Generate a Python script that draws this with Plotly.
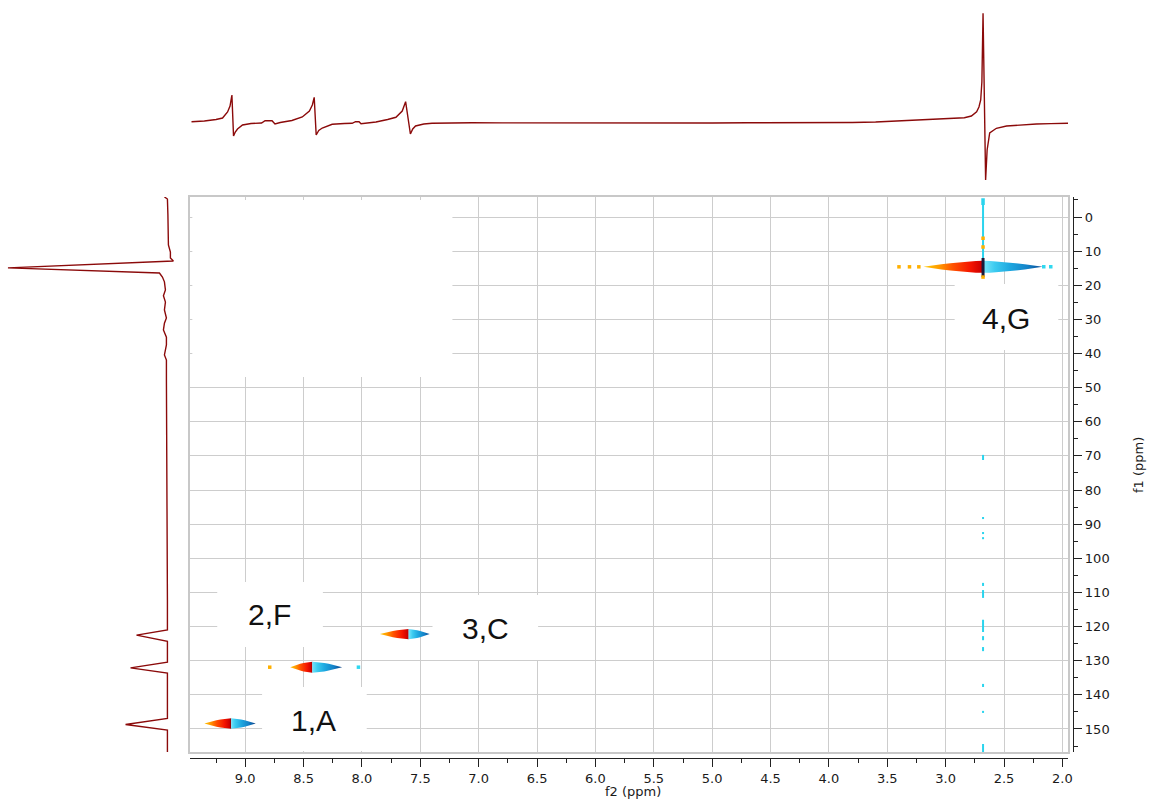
import plotly.graph_objects as go

W, H = 1149, 799

# ---------------- data ----------------
# 1D projection along f2 (top trace): ppm, intensity (arb.)
top_f2 = [9.46, 9.35, 9.25, 9.194, 9.151, 9.13, 9.114, 9.100, 9.085, 9.066, 9.023, 8.95, 8.86,
          8.83, 8.77, 8.745, 8.70, 8.60, 8.511, 8.45, 8.425, 8.409, 8.392, 8.37, 8.34, 8.255,
          8.15, 8.084, 8.055, 8.025, 8.008, 7.95, 7.88, 7.78, 7.709, 7.655, 7.626, 7.585, 7.565,
          7.541, 7.47, 7.40, 7.25, 7.06, 6.8, 6.5, 6.2, 5.9, 5.6, 5.3, 5.0, 4.7, 4.4, 4.1, 3.8,
          3.6, 3.42, 3.2, 2.99, 2.84, 2.78, 2.735, 2.715, 2.70, 2.69, 2.680, 2.658, 2.645, 2.623,
          2.566, 2.479, 2.35, 2.223, 2.10, 1.952]
top_int = [0.3, 1.0, 2.5, 4, 10, 16, 27, -14, -10, -7, -3, -1.5, -1,
           1.3, 1.3, -2, -0.5, 1.5, 5, 11, 17, 24.7, -13, -8.5, -6, -2.3,
           -1.5, -1.3, 0.3, 0.3, -1.7, -0.8, 0, 2.5, 4.7, 11, 20.3, -12, -7,
           -4, -2, -1.3, -1, -0.7, -0.9, -1.0, -0.8, -1.0, -0.9, -0.8, -1.0, -0.8, -0.9, -0.7, -0.5,
           0, 1, 1.8, 3, 4.3, 6, 10.3, 15, 22, 40, 108.7, -58, -28, -11,
           -6.3, -4, -2.8, -2, -1.6, -1.3]

# 1D projection along f1 (left trace): ppm, intensity (arb.)
left_f1 = [-5.86, -5.27, -0.6, 3.8, 8.2, 10.3, 12.0, 12.9, 14.9, 16.4, 17.6, 19.0, 21.4, 23.1,
           24.9, 27.2, 29.6, 31.1, 33.1, 35.2, 37.5, 40.4, 41.9, 47.8, 68.3, 88.8, 112.2, 121.0,
           122.5, 124.3, 130.4, 132.1, 133.6, 146.9, 148.7, 150.3, 157.0]
left_int = [3, 0, -0.5, -1, -1, -3, -3, -6, 160, 8, 5, 3, 2, 4,
            2, 3, 1, 3, 4, 1, 1, 3, 1, 1, 0.5, 0.5, 0, 0,
            31, 0, 0, 37, 0, 0, 42, 0, 0]

# cross peaks
peak_labels = ["1,A", "2,F", "3,C", "4,G"]
peak_f2 = [9.12, 8.425, 7.60, 2.68]
peak_f1 = [148.4, 131.9, 122.2, 14.6]
peak_pos_end_f2 = [9.35, 8.614, 7.846, 3.19]
peak_neg_end_f2 = [8.91, 8.17, 7.42, 2.17]
peak_f1_half = [1.55, 1.6, 1.5, 1.75]

# isolated contour dots
pos_dot_f2 = [8.79, 3.40, 3.31, 3.23, 2.68, 2.68, 2.68]
pos_dot_f1 = [131.9, 14.6, 14.6, 14.6, 6.2, 8.8, 17.6]
neg_dot_f2 = [8.03, 2.16, 2.10]
neg_dot_f1 = [131.9, 14.6, 14.6]

# t1-noise streak at the methyl f2 position
streak_f2 = 2.68
streak_f1_start = [-5.5, -3.5, 69.7, 87.9, 92.3, 93.8, 107.2, 109.3, 118.0, 122.8, 126.0, 136.8, 144.7, 154.4]
streak_f1_end = [-3.5, 12.5, 71.2, 88.5, 92.9, 94.4, 108.1, 111.6, 121.6, 124.0, 127.2, 137.7, 145.3, 156.8]
spike_f1 = [12.0, 17.6]

x_ticks = [9.0, 8.5, 8.0, 7.5, 7.0, 6.5, 6.0, 5.5, 5.0, 4.5, 4.0, 3.5, 3.0, 2.5, 2.0]
y_ticks = [0, 10, 20, 30, 40, 50, 60, 70, 80, 90, 100, 110, 120, 130, 140, 150]

# ---------------- layout helpers ----------------
def px(x):
    return x / W

def py(y):
    return 1 - y / H

X_RANGE = [9.47, 1.95]
Y_RANGE = [156.75, -5.86]
main_xdom = [px(191), px(1072)]
main_ydom = [py(752), py(197)]

lens_t = [0, 0.15, 0.3, 0.45, 0.6, 0.75, 0.88, 1.0]
lens_w = [0, 0.25, 0.45, 0.62, 0.77, 0.89, 0.97, 1.0]

pos_scale = [[0, '#ffc400'], [0.22, '#ff9a00'], [0.45, '#ff5200'], [0.75, '#f41400'],
             [0.93, '#cc0000'], [1, '#6a0010']]
neg_scale = [[0, '#10244a'], [0.08, '#0a4f98'], [0.3, '#1482c8'], [0.6, '#1ea8e0'],
             [0.85, '#3ccbf0'], [1, '#6ee0f8']]

fig = go.Figure()

def lobe(xc, xe, yc, hh, scale):
    xs, yu, yl = [], [], []
    for t, w in zip(lens_t, lens_w):
        xs.append(xe + t * (xc - xe))
        yu.append(yc - w * hh)
        yl.append(yc + w * hh)
    X = xs + xs[::-1] + [xs[0]]
    Y = yu + yl[::-1] + [yu[0]]
    return go.Scatter(x=X, y=Y, mode='lines', fill='toself', line=dict(width=0),
                      fillgradient=dict(type='horizontal', colorscale=scale, start=xe, stop=xc),
                      hoverinfo='skip', showlegend=False, xaxis='x', yaxis='y')

# streak
sx, sy = [], []
for a, b in zip(streak_f1_start[1:], streak_f1_end[1:]):
    sx += [streak_f2, streak_f2, None]
    sy += [a, b, None]
fig.add_trace(go.Scatter(x=sx, y=sy, mode='lines', line=dict(color='#2ad4ee', width=2),
                         hoverinfo='skip', showlegend=False))
fig.add_trace(go.Scatter(x=[streak_f2, streak_f2], y=[streak_f1_start[0], streak_f1_end[0]],
                         mode='lines', line=dict(color='#2ad4ee', width=3.5),
                         hoverinfo='skip', showlegend=False))

for i in range(len(peak_labels)):
    fig.add_trace(lobe(peak_f2[i], peak_pos_end_f2[i], peak_f1[i], peak_f1_half[i], pos_scale))
    fig.add_trace(lobe(peak_f2[i], peak_neg_end_f2[i], peak_f1[i], peak_f1_half[i], neg_scale))

fig.add_trace(go.Scatter(x=[peak_f2[3], peak_f2[3]], y=spike_f1, mode='lines',
                         line=dict(color='#1a1a3a', width=3), hoverinfo='skip', showlegend=False))

fig.add_trace(go.Scatter(x=pos_dot_f2, y=pos_dot_f1, mode='markers',
                         marker=dict(color='#ffb000', size=3.5, symbol='square'),
                         hoverinfo='skip', showlegend=False))
fig.add_trace(go.Scatter(x=neg_dot_f2, y=neg_dot_f1, mode='markers',
                         marker=dict(color='#30d8f0', size=3.5, symbol='square'),
                         hoverinfo='skip', showlegend=False))

# projections
fig.add_trace(go.Scatter(x=top_f2, y=top_int, mode='lines', xaxis='x2', yaxis='y2',
                         line=dict(color='#8b0a0a', width=1.4), hoverinfo='skip', showlegend=False))
fig.add_trace(go.Scatter(x=left_int, y=left_f1, mode='lines', xaxis='x3', yaxis='y3',
                         line=dict(color='#8b0a0a', width=1.4), hoverinfo='skip', showlegend=False))

# dummy for tick axes
fig.add_trace(go.Scatter(x=[5.0], y=[50], xaxis='x5', yaxis='y5', mode='markers',
                         marker=dict(opacity=0), hoverinfo='skip', showlegend=False))

grid = '#cdcdcd'
tickfont = dict(family='DejaVu Sans', size=13, color='#1a1a1a')

fig.update_layout(
    width=W, height=H, margin=dict(l=0, r=0, t=0, b=0),
    paper_bgcolor='white', plot_bgcolor='white',
    xaxis=dict(domain=main_xdom, range=X_RANGE, anchor='y', tickvals=x_ticks, showticklabels=False,
               ticks='', showgrid=True, gridcolor=grid, gridwidth=1, zeroline=False,
               showline=True, linecolor='#c8c8c8', linewidth=1.5, mirror=True),
    yaxis=dict(domain=main_ydom, range=Y_RANGE, anchor='x', tickvals=y_ticks, showticklabels=False,
               ticks='', showgrid=True, gridcolor=grid, gridwidth=1, zeroline=False,
               showline=True, linecolor='#c8c8c8', linewidth=1.5, mirror=True),
    xaxis5=dict(domain=main_xdom, range=X_RANGE, overlaying='x', anchor='free', position=py(758),
                tickvals=x_ticks, ticktext=[f'{v:.1f}' for v in x_ticks], ticks='outside', ticklen=8,
                tickcolor='#222', showline=True, linecolor='#222', linewidth=1, showgrid=False,
                zeroline=False, tickfont=tickfont,
                minor=dict(ticks='outside', ticklen=4, dtick=0.25, tick0=0, tickcolor='#222', showgrid=False)),
    yaxis5=dict(domain=main_ydom, range=Y_RANGE, overlaying='y', anchor='free', side='right',
                position=px(1077), tickvals=y_ticks, ticks='outside', ticklen=8, tickcolor='#222',
                showline=True, linecolor='#222', linewidth=1, showgrid=False, zeroline=False,
                tickfont=tickfont,
                minor=dict(ticks='outside', ticklen=4, dtick=5, tick0=0, tickcolor='#222', showgrid=False)),
    xaxis2=dict(domain=main_xdom, range=X_RANGE, anchor='y2', visible=False),
    yaxis2=dict(domain=[py(185), py(5)], range=[-63, 117], anchor='x2', visible=False),
    xaxis3=dict(domain=[0, px(190)], range=[168, -22], anchor='y3', visible=False),
    yaxis3=dict(domain=main_ydom, range=Y_RANGE, anchor='x3', visible=False),
)

# white label boxes (pixel positions)
boxes = [(193, 200, 454, 377), (218, 582, 324, 647), (434, 595, 540, 660),
         (263, 687, 368, 751), (958, 284, 1062, 350)]
for x0, y0, x1, y1 in boxes:
    fig.add_shape(type='rect', xref='paper', yref='paper', x0=px(x0), x1=px(x1), y0=py(y1), y1=py(y0),
                  fillcolor='white', line=dict(width=0), layer='above')

label_pos = {"1,A": (315, 720), "2,F": (270, 614), "3,C": (487, 628), "4,G": (1010, 318)}
for lab in peak_labels:
    x, y = label_pos[lab]
    fig.add_annotation(x=px(x), y=py(y), xref='paper', yref='paper', text=lab, showarrow=False,
                       font=dict(family='Liberation Sans', size=30, color='#111'),
                       xanchor='center', yanchor='middle')

fig.add_annotation(x=px(635), y=py(791), xref='paper', yref='paper', text='f2 (ppm)', showarrow=False,
                   font=dict(family='DejaVu Sans', size=13, color='#1a1a1a'), xanchor='center', yanchor='middle')
fig.add_annotation(x=px(1142), y=py(465), xref='paper', yref='paper', text='f1 (ppm)', showarrow=False,
                   textangle=-90, font=dict(family='DejaVu Sans', size=13, color='#1a1a1a'),
                   xanchor='center', yanchor='middle')

fig.write_html("out.html")
